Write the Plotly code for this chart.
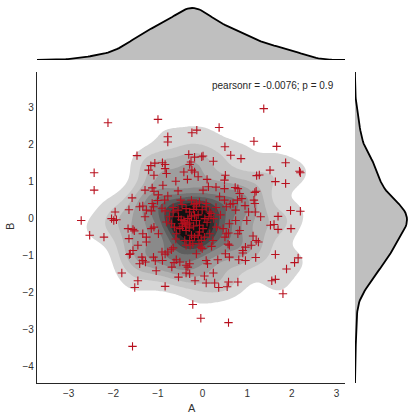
import numpy as np
import plotly.graph_objects as go

# ---- data (A, B pairs) ----
A = [
    -2.12, -1.00, 1.37, 0.37, -0.13, -0.24, -0.78, -0.78, 1.15, 1.66,
    0.50, -1.47, 0.63, 0.86, 1.86, -0.31, -0.18, 0.01, -0.02, -0.26,
    -0.29, 0.24, -0.90, -0.84, -1.07, -1.16, -1.21, -0.84, -1.09, -0.81,
    -0.42, -0.24, -0.18, -0.34, -0.10, 0.10, 0.51, 0.49, -0.60, -0.89,
    -1.29, -1.13, -1.09, 0.01, 0.13, 0.49, 0.73, 0.79, 1.20, 1.17,
    0.83, 1.51, 1.21, 1.27, 1.63, 1.86, 2.17, 2.19, -2.43, -2.43,
    -1.58, -0.99, -0.78, -0.49, -1.01, -1.13, -1.10, -1.34, -1.41, -1.26,
    -1.15, -1.65, -1.96, -2.04, -1.99, -1.93, -1.29, -0.91, -0.66, -0.84,
    -0.46, -0.19, -0.14, -0.37, -0.29, -0.01, 0.08, 0.19, 0.14, 0.38,
    0.49, 0.53, 0.62, 0.78, 0.88, 0.68, 0.74, 1.15, 1.17, 1.03,
    1.18, 1.30, 0.99, 0.74, 0.60, 0.46, 0.83, 0.79, 0.53, 0.58,
    0.50, 0.31, 0.16, 0.23, 1.13, 1.20, 1.25, 1.09, 0.96, 0.90,
    0.90, 0.57, 0.60, 0.51, 0.60, 0.34, 0.08, 0.11, -0.04, -0.01,
    -0.14, -0.28, -0.22, -0.40, -0.59, -0.66, -0.70, -0.78, -0.91, -0.84,
    -1.10, -1.34, -1.28, -1.36, -1.45, -1.56, -1.62, -1.65, -1.56, -1.53,
    -1.26, -1.34, -1.26, -0.99, -1.15, -1.09, -1.41, -1.06, -0.90, -1.04,
    -0.69, -0.51, -0.37, -0.33, -0.29, -0.37, -0.29, -0.64, -0.59,
    -0.54, -0.48, -0.46, -0.40, -0.35, -0.29, -0.25, -0.18, -0.14, -0.07,
    0.01, -0.07, -0.37, -0.25, -0.18, -0.51, -0.63, -0.74, -0.81, -0.70,
    -0.66, -0.55, -0.14, -0.07, -0.25, 0.08, 0.16, -0.03, 0.04, -0.08,
    -0.29, -0.37,
    -0.42, -0.38, -0.30, -0.20, -0.33, -0.45, -0.10, 0.05, -0.20, 0.10,
    0.25, 0.30, -0.60, -0.10, 0.20, 0.40, -0.85, -0.55, 0.30, 0.95,
    -2.53, -2.72, -2.21, 1.98, 1.69, 1.52, 1.60, 1.97, 2.19, 1.69,
    1.63, 2.14, 2.06, 1.19, 1.88, -1.81, 1.55, 1.63, 1.80, -1.52,
    -1.45, -0.84, -0.22, -0.04, 0.58, -1.57, 0.36, 0.55, 0.58, 0.79,
    0.08, 0.27, -0.17, -0.54, 0.04, 0.24, -1.67, -1.64, 0.96, 0.81,
]
B = [
    2.59, 2.68, 2.97, 2.46, 2.39, 2.32, 2.21, 2.07, 2.09, 1.95,
    1.94, 1.70, 1.71, 1.62, 1.51, 1.73, 1.66, 1.69, 1.67, 1.53,
    1.46, 1.55, 1.51, 1.46, 1.50, 1.43, 1.31, 1.35, 1.17, 1.22,
    1.26, 1.31, 1.26, 1.06, 1.13, 1.06, 1.17, 1.04, 1.01, 0.90,
    0.77, 0.83, 0.74, 0.77, 0.86, 0.81, 0.84, 0.81, 0.74, 0.71,
    0.68, 1.31, 1.16, 1.18, 1.00, 0.95, 1.28, 1.24, 1.24, 0.77,
    0.56, 0.64, 0.61, 0.50, 0.49, 0.41, 0.32, 0.34, 0.32, 0.23,
    0.21, 0.24, 0.18, 0.00, -0.05, -0.03, 0.05, 0.28, 0.30, 0.21,
    0.38, 0.39, 0.32, 0.27, 0.18, 0.24, 0.32, 0.14, 0.05, 0.59,
    0.50, 0.32, 0.39, 0.50, 0.54, 0.41, 0.23, 0.50, 0.41, 0.18,
    0.18, 0.05, -0.05, -0.05, -0.14, -0.27, -0.32, -0.41, -0.41, -0.39,
    -0.50, -0.23, -0.41, -0.59, -0.47, -0.59, -0.63, -0.72, -0.77, -0.86,
    -0.93, -0.69, -0.72, -0.95, -1.04, -1.11, -1.13, -1.22, -0.77, -0.81,
    -0.95, -0.72, -0.68, -0.59, -0.41, -0.79, -0.84, -0.90, -0.90, -0.96,
    -1.04, -1.13, -1.17, -1.04, -0.72, -0.86, -0.95, -0.54, -0.29, -0.33,
    -0.50, -0.41, -0.63, -0.41, -0.27, -0.23, -1.22, -1.14, -1.13, -1.41,
    -1.31, -1.17, -1.26, -1.31, -1.22, -1.47, -1.49, -1.19, -1.11,
    0.05, -0.03, -0.14, -0.09, -0.15, -0.12, 0.05, 0.09, -0.05, -0.18,
    -0.27, -0.36, -0.32, -0.45, -0.50, -0.27, -0.23, 0.05, -0.09, -0.14,
    0.18, 0.23, 0.41, 0.45, 0.50, 0.41, 0.18, -0.59, -0.50, -0.68,
    -0.59, -0.72,
    -0.05, -0.20, -0.25, -0.20, 0.00, -0.22, 0.10, 0.00, 0.25, -0.10,
    0.00, 0.30, -0.55, -0.45, -0.75, 0.10, 0.50, 0.75, 0.85, 0.35,
    -0.45, -0.05, -0.50, -0.27, -0.29, -0.18, -0.16, 0.22, 0.20, 0.06,
    -0.97, -1.06, -1.19, -1.05, -1.36, -1.47, -1.68, -1.64, -2.03, -1.86,
    -1.68, -1.83, -2.32, -2.69, -2.81, -3.45, -1.86, -1.84, -1.71, -1.71,
    -1.74, -1.74, -1.68, -1.58, -1.55, -1.47, -0.27, -0.97, -1.13, -1.11,
]
x_ticks = [-3, -2, -1, 0, 1, 2, 3]
y_ticks = [-4, -3, -2, -1, 0, 1, 2, 3]
stat_label = "pearsonr = -0.0076; p = 0.9"

# ---- settings ----
x_range = [-3.71, 3.19]
y_range = [-4.44, 3.96]
bw = 0.33
n_levels = 10
grays = [255, 214, 196, 178, 158, 138, 116, 94, 70, 45, 18]

a = np.array(A)
b = np.array(B)
n = len(a)
gx = np.linspace(x_range[0], x_range[1], 140)
gy = np.linspace(y_range[0], y_range[1], 140)
kx = np.exp(-0.5 * ((gx[:, None] - a[None, :]) / bw) ** 2)
ky = np.exp(-0.5 * ((gy[:, None] - b[None, :]) / bw) ** 2)
Z = (ky @ kx.T) / (n * 2 * np.pi * bw * bw)
dens_a = kx.sum(axis=1) / (n * np.sqrt(2 * np.pi) * bw)
dens_b = ky.sum(axis=1) / (n * np.sqrt(2 * np.pi) * bw)

zmax = Z.max()
step = zmax / (n_levels + 3)
cs = []
for j, g in enumerate(grays):
    col = f"rgb({g},{g},{g})"
    lo = max(0.0, (j - 0.5) / n_levels)
    hi = min(1.0, (j + 0.5) / n_levels)
    cs.append([lo, col])
    cs.append([hi, col])

fig = go.Figure()
fig.add_trace(go.Contour(
    x=gx, y=gy, z=Z, colorscale=cs, showscale=False,
    contours=dict(start=step, end=step * n_levels + 1e-12, size=step,
                  coloring="fill", showlines=False),
    line=dict(width=0), hoverinfo="skip", xaxis="x", yaxis="y",
))
fig.add_trace(go.Scatter(
    x=a, y=b, mode="markers", xaxis="x", yaxis="y",
    marker=dict(symbol="cross-thin", size=6, color="#b8101e",
                line=dict(width=1.1, color="#b8101e")),
))
fig.add_trace(go.Scatter(
    x=gx, y=dens_a, mode="lines", fill="tozeroy", fillcolor="#bfbfbf",
    line=dict(color="black", width=1.8), xaxis="x2", yaxis="y2",
))
fig.add_trace(go.Scatter(
    x=dens_b, y=gy, mode="lines", fill="tozerox", fillcolor="#bfbfbf",
    line=dict(color="black", width=1.8), xaxis="x3", yaxis="y3",
))

W, H = 415, 420
ml, mb = 37, 37
pw, ph = W - ml, H - mb
main_right = (345 - ml) / pw
right_left = (355 - ml) / pw
main_top = (383 - 72) / ph
top_bottom = (383 - 60) / ph

font_family = "Liberation Sans, Arial"
tickfont = dict(family=font_family, size=10, color="#333333")
fig.update_layout(
    width=W, height=H,
    margin=dict(l=ml, r=0, t=0, b=mb, autoexpand=False),
    paper_bgcolor="white", plot_bgcolor="white", showlegend=False,
    xaxis=dict(domain=[0, main_right], range=x_range, tickvals=x_ticks,
               showgrid=False, zeroline=False, showline=True,
               linecolor="#262626", linewidth=1.3, ticks="",
               tickfont=tickfont, ticklabelstandoff=1, automargin=False),
    yaxis=dict(domain=[0, main_top], range=y_range, tickvals=y_ticks,
               showgrid=False, zeroline=False, showline=True,
               linecolor="#262626", linewidth=1.3, ticks="",
               tickfont=tickfont, ticklabelstandoff=0, automargin=False),
    xaxis2=dict(domain=[0, main_right], range=x_range, visible=False, anchor="y2"),
    yaxis2=dict(domain=[top_bottom, 1], range=[0, dens_a.max() * 60 / 52],
                visible=False, anchor="x2"),
    xaxis3=dict(domain=[right_left, 1], range=[0, dens_b.max() * 60 / 52],
                visible=False, anchor="y3"),
    yaxis3=dict(domain=[0, main_top], range=y_range, visible=False, anchor="x3"),
    annotations=[
        dict(text=stat_label, xref="paper", yref="paper",
             x=(336 - ml) / pw, y=(383 - 85) / ph,
             xanchor="right", yanchor="middle", showarrow=False,
             font=dict(family=font_family, size=10, color="#262626")),
        dict(text="A", xref="paper", yref="paper",
             x=(192 - ml) / pw, y=(383 - 408) / ph,
             xanchor="center", yanchor="middle", showarrow=False,
             font=dict(family=font_family, size=11, color="#333333")),
        dict(text="B", xref="paper", yref="paper",
             x=(10 - ml) / pw, y=(383 - 227) / ph, textangle=-90,
             xanchor="center", yanchor="middle", showarrow=False,
             font=dict(family=font_family, size=11, color="#333333")),
    ],
)
fig.write_html("out.html", config={"displayModeBar": False},
               post_script="document.body.style.margin='0px';document.body.style.padding='0px';")
